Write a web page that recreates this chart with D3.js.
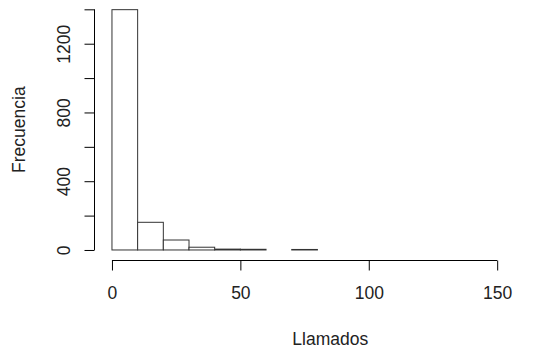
<!DOCTYPE html>
<html>
<head>
<meta charset="utf-8">
<script src="https://cdn.jsdelivr.net/npm/d3@7"></script>
<style>
  body { margin: 0; background: #fff; }
  text { font-family: 'Liberation Sans', Arial, sans-serif; fill: #222; }
</style>
</head>
<body>
<svg id="chart" width="548" height="352"></svg>
<script>
// histogram bins (left edges, width 10) and counts
const binStarts = [0, 10, 20, 30, 40, 50, 60, 70, 80, 90, 100, 110, 120, 130, 140, 150, 160];
const counts = [1398, 161, 58, 16, 5, 4, 0, 3, 0, 0, 0, 0, 0, 0, 0, 0, 0];
const xTicks = [0, 50, 100, 150];
const yTicks = [0, 200, 400, 600, 800, 1000, 1200, 1400];
const yLabelled = [0, 400, 800, 1200];

const binWidth = 10;
const fontSize = 17.5;
const svg = d3.select('#chart');

// R style 4% extension on both ends
const x = d3.scaleLinear().domain([-6.8, 176.8]).range([94.5, 566]);
const y = d3.scaleLinear().domain([-56, 1456]).range([259.6, -0.3]);

svg.append('g')
  .selectAll('rect')
  .data(counts)
  .enter()
  .append('rect')
  .attr('x', (d, i) => x(binStarts[i]))
  .attr('y', d => y(d))
  .attr('width', x(binWidth) - x(0))
  .attr('height', d => y(0) - y(d))
  .attr('fill', '#fff')
  .attr('stroke', '#333')
  .attr('stroke-width', 1);

// y axis
const yAxis = svg.append('g')
  .attr('transform', 'translate(94.5,0)')
  .call(d3.axisLeft(y).tickValues(yTicks).tickSize(10)
    .tickFormat(d => (yLabelled.includes(d) ? d : '')));
yAxis.select('.domain').remove();
yAxis.append('line')
  .attr('y1', y(0)).attr('y2', y(1400))
  .attr('stroke', '#000');
yAxis.selectAll('.tick line').attr('stroke', '#000');
yAxis.selectAll('.tick text')
  .attr('x', 0)
  .attr('dy', 0)
  .attr('transform', 'translate(-25,0) rotate(-90)')
  .attr('text-anchor', 'middle')
  .attr('font-size', fontSize)
  .attr('fill', '#222');

// x axis
const xAxis = svg.append('g')
  .attr('transform', 'translate(0,260.5)')
  .call(d3.axisBottom(x).tickValues(xTicks).tickSize(10));
xAxis.select('.domain').remove();
xAxis.append('line')
  .attr('x1', x(0)).attr('x2', x(150))
  .attr('stroke', '#000');
xAxis.selectAll('.tick line').attr('stroke', '#000');
xAxis.selectAll('.tick text')
  .attr('y', 26)
  .attr('dy', '0.71em')
  .attr('font-size', fontSize)
  .attr('fill', '#222');

// axis titles
svg.append('text')
  .attr('x', (x.range()[0] + x.range()[1]) / 2)
  .attr('y', 345)
  .attr('text-anchor', 'middle')
  .attr('font-size', fontSize)
  .text('Llamados');

svg.append('text')
  .attr('transform', `translate(25,${(y(-56) + y(1456)) / 2}) rotate(-90)`)
  .attr('text-anchor', 'middle')
  .attr('font-size', fontSize)
  .attr('fill', '#3a1a1a')
  .text('Frecuencia');
</script>
</body>
</html>
